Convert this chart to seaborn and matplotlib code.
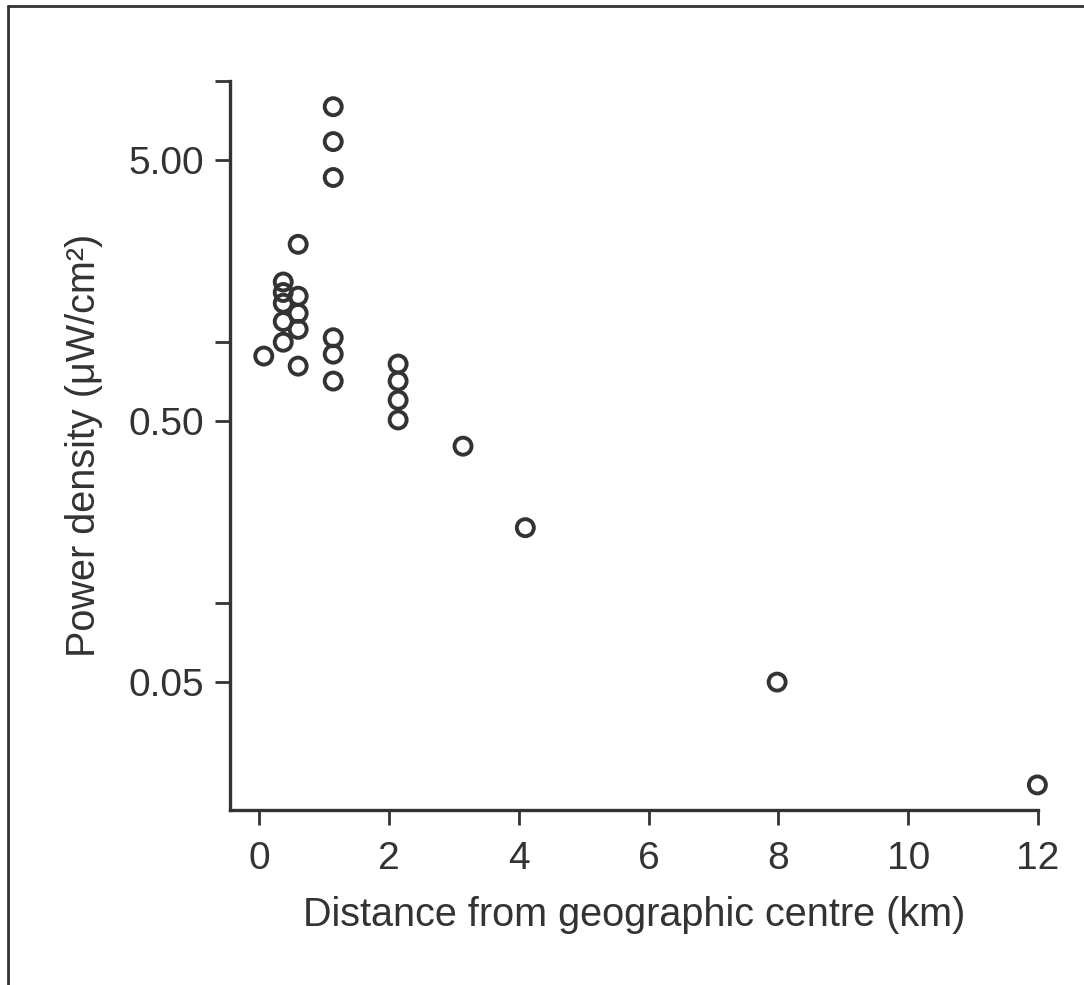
import matplotlib
matplotlib.use('Agg')
import matplotlib.pyplot as plt
import seaborn as sns
import pandas as pd
from matplotlib.lines import Line2D
from matplotlib.ticker import FixedLocator, FixedFormatter, NullLocator

sns.set_style('white')
plt.rcParams['font.family'] = ['Liberation Sans', 'DejaVu Sans']

# distance from centre (km) and measured power density (uW/cm2)
distance = [0.07, 0.37, 0.37, 0.37, 0.37, 0.37, 0.60, 0.60, 0.60, 0.60, 0.60,
            1.14, 1.14, 1.14, 1.14, 1.14, 1.14,
            2.14, 2.14, 2.14, 2.14, 3.14, 4.10, 7.98, 11.99]
power = [0.885, 1.70, 1.55, 1.41, 1.20, 1.00, 1.50, 1.29, 1.12, 0.81, 2.37,
         7.97, 5.86, 4.27, 1.04, 0.90, 0.71,
         0.825, 0.71, 0.60, 0.504, 0.40, 0.195, 0.050, 0.0202]

x_ticks = [0, 2, 4, 6, 8, 10, 12]
y_ticks = [0.05, 0.1, 0.5, 1.0, 5.0, 10.0]
y_ticklabels = ['0.05', '', '0.50', '', '5.00', '']

ink = '#333333'
df = pd.DataFrame({'distance': distance, 'power': power})

fig = plt.figure(figsize=(10.84, 9.85), dpi=100)
ax = fig.add_axes([0.2122, 0.1777, 0.9576 - 0.2122, 0.9178 - 0.1777])

sns.scatterplot(data=df, x='distance', y='power', ax=ax, color=ink,
                marker='o', s=150, linewidth=2.8, clip_on=False, zorder=3)
ax.collections[0].set_facecolor('none')
ax.collections[0].set_edgecolor(ink)

ax.set_yscale('log')
ax.set_xlim(-0.45, 12.0)
ax.set_ylim(0.0162, 10.0)

ax.xaxis.set_major_locator(FixedLocator(x_ticks))
ax.yaxis.set_major_locator(FixedLocator(y_ticks))
ax.yaxis.set_major_formatter(FixedFormatter(y_ticklabels))
ax.yaxis.set_minor_locator(NullLocator())

sns.despine(ax=ax)
for side in ['left', 'bottom']:
    ax.spines[side].set_color(ink)
    ax.spines[side].set_linewidth(2.4)
ax.tick_params(axis='both', which='major', length=11, width=2.0, color=ink,
               labelcolor=ink, labelsize=28, direction='out',
               bottom=True, left=True)
ax.tick_params(axis='x', pad=11)
ax.tick_params(axis='y', pad=8)

ax.set_xlabel('Distance from geographic centre (km)', fontsize=28.5, color=ink, labelpad=14)
ax.set_ylabel('Power density (\u03bcW/cm\u00b2)', fontsize=28.5, color=ink, labelpad=18)

# scanned page frame (left and top edges)
fig.add_artist(Line2D([0.007, 0.007], [0.0, 0.994], transform=fig.transFigure,
                      color=ink, lw=2.0))
fig.add_artist(Line2D([0.007, 1.0], [0.994, 0.994], transform=fig.transFigure,
                      color=ink, lw=2.0))

fig.savefig('out.png', dpi=100, facecolor='white')
